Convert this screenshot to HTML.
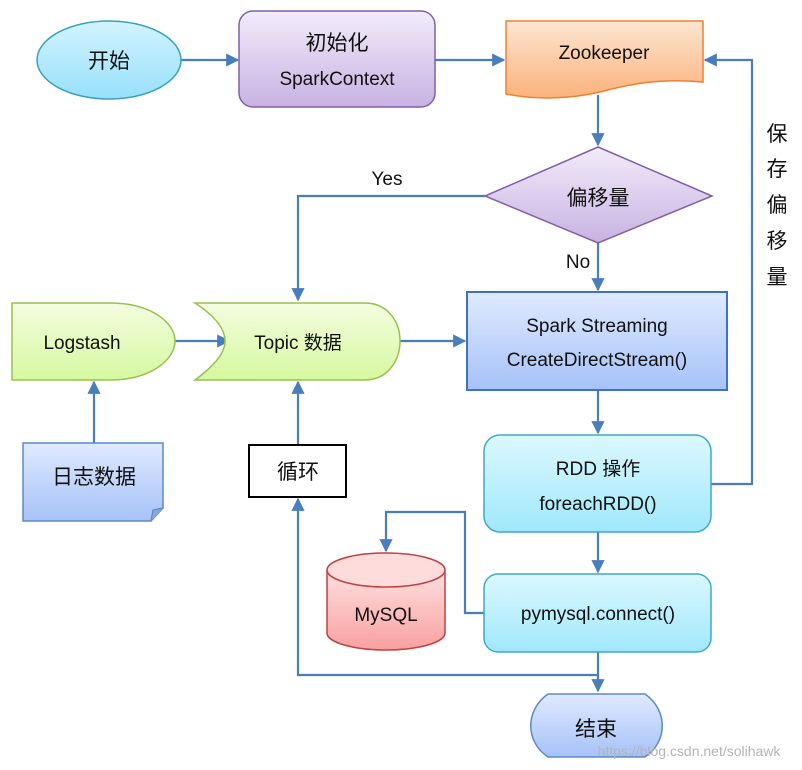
<!DOCTYPE html>
<html><head><meta charset="utf-8"><style>body{margin:0;background:#fff}svg{display:block}text{font-family:"Liberation Sans","Noto Sans CJK SC",sans-serif;fill:#111}</style></head><body>
<svg width="802" height="770" viewBox="0 0 802 770" xmlns="http://www.w3.org/2000/svg">
<defs>
<linearGradient id="gc" x1="0" y1="0" x2="0" y2="1"><stop offset="0" stop-color="#d2f4ff"/><stop offset="1" stop-color="#98e0fa"/></linearGradient>
<linearGradient id="gp" x1="0" y1="0" x2="0" y2="1"><stop offset="0" stop-color="#f2ecfa"/><stop offset="1" stop-color="#c8b2e2"/></linearGradient>
<linearGradient id="go" x1="0" y1="0" x2="0" y2="1"><stop offset="0" stop-color="#fde6d2"/><stop offset="1" stop-color="#fbb27c"/></linearGradient>
<linearGradient id="gb" x1="0" y1="0" x2="0" y2="1"><stop offset="0" stop-color="#dfeafe"/><stop offset="1" stop-color="#a6c2f8"/></linearGradient>
<linearGradient id="gg" x1="0" y1="0" x2="0" y2="1"><stop offset="0" stop-color="#f4fde0"/><stop offset="1" stop-color="#d6f8a0"/></linearGradient>
<linearGradient id="gt" x1="0" y1="0" x2="0" y2="1"><stop offset="0" stop-color="#dcf8ff"/><stop offset="1" stop-color="#a0e8fb"/></linearGradient>
<linearGradient id="gr" x1="0" y1="0" x2="0" y2="1"><stop offset="0" stop-color="#ffe0e0"/><stop offset="1" stop-color="#f8a0a0"/></linearGradient>
<marker id="ar" viewBox="0 0 10 10" refX="9" refY="5" markerWidth="6" markerHeight="6" orient="auto"><path d="M0,0 L10,5 L0,10 z" fill="#4a7ebb"/></marker>
</defs>
<g fill="none" stroke="#4a7ebb" stroke-width="2.2">
<path d="M181,60 H238" marker-end="url(#ar)"/>
<path d="M435,60 H504" marker-end="url(#ar)"/>
<path d="M598,95 V145" marker-end="url(#ar)"/>
<path d="M485,196 H298 V300" marker-end="url(#ar)"/>
<path d="M598,243 V290" marker-end="url(#ar)"/>
<path d="M175,341 H229" marker-end="url(#ar)"/>
<path d="M400,341 H465" marker-end="url(#ar)"/>
<path d="M94,443 V382" marker-end="url(#ar)"/>
<path d="M298,444 V382" marker-end="url(#ar)"/>
<path d="M598,390 V433" marker-end="url(#ar)"/>
<path d="M711,484 H752 V60 H705" marker-end="url(#ar)"/>
<path d="M598,532 V572" marker-end="url(#ar)"/>
<path d="M484,613 H465 V512 H386 V551" marker-end="url(#ar)"/>
<path d="M598,652 V691" marker-end="url(#ar)"/>
<path d="M598,675 H298 V499" marker-end="url(#ar)"/>
</g>
<ellipse cx="109" cy="60" rx="72" ry="39" fill="url(#gc)" stroke="#3aa0c0" stroke-width="1.5"/>
<text x="109" y="68" font-size="21" text-anchor="middle">开始</text>
<rect x="239" y="11" width="196" height="96" rx="14" fill="url(#gp)" stroke="#8060a8" stroke-width="1.5"/>
<text x="337" y="50" font-size="21" text-anchor="middle">初始化</text>
<text x="337" y="85" font-size="19" text-anchor="middle">SparkContext</text>
<path d="M506,21 H703 V82 C660,78 630,84 600,92 C570,99 535,100 506,94 Z" fill="url(#go)" stroke="#f08030" stroke-width="1.5"/>
<text x="604" y="59" font-size="19" text-anchor="middle">Zookeeper</text>
<path d="M598,147 L712,196 L598,243 L485,196 Z" fill="url(#gp)" stroke="#8060a8" stroke-width="1.5"/>
<text x="598" y="205" font-size="21" text-anchor="middle">偏移量</text>
<text x="387" y="185" font-size="19" text-anchor="middle" font-family="Liberation Serif">Yes</text>
<text x="578" y="268" font-size="19" text-anchor="middle" font-family="Liberation Serif">No</text>
<rect x="467" y="292" width="260" height="98" fill="url(#gb)" stroke="#3f72c0" stroke-width="2"/>
<text x="597" y="332" font-size="19" text-anchor="middle">Spark Streaming</text>
<text x="597" y="366" font-size="19" text-anchor="middle">CreateDirectStream()</text>
<path d="M12,303 H110 C150,303 175,322 175,341 C175,360 150,380 110,380 H12 Z" fill="url(#gg)" stroke="#98c050" stroke-width="1.5"/>
<text x="82" y="349" font-size="19" text-anchor="middle">Logstash</text>
<path d="M195,303 H365 C388,303 400,322 400,341 C400,360 388,380 365,380 H195 C215,365 225,353 225,341 C225,329 215,316 195,303 Z" fill="url(#gg)" stroke="#98c050" stroke-width="1.5"/>
<text x="298" y="349" font-size="19" text-anchor="middle">Topic 数据</text>
<path d="M23,443 H163 V508 L151,521 H23 Z" fill="url(#gb)" stroke="#5f88c8" stroke-width="1.5"/>
<path d="M151,521 L153,510 L163,508" fill="#8aa8e0" stroke="#5f88c8" stroke-width="1.2"/>
<text x="94" y="484" font-size="21" text-anchor="middle">日志数据</text>
<rect x="249" y="445" width="97" height="52" fill="#fff" stroke="#000" stroke-width="2"/>
<text x="298" y="479" font-size="21" text-anchor="middle">循环</text>
<rect x="484" y="435" width="227" height="97" rx="16" fill="url(#gt)" stroke="#40a8c8" stroke-width="1.5"/>
<text x="598" y="475" font-size="19" text-anchor="middle">RDD 操作</text>
<text x="598" y="510" font-size="19" text-anchor="middle">foreachRDD()</text>
<rect x="484" y="574" width="227" height="78" rx="14" fill="url(#gt)" stroke="#40a8c8" stroke-width="1.5"/>
<text x="598" y="620" font-size="19" text-anchor="middle">pymysql.connect()</text>
<path d="M327,570 V633 A59,17 0 0 0 445,633 V570" fill="url(#gr)" stroke="#c04040" stroke-width="1.5"/>
<ellipse cx="386" cy="570" rx="59" ry="17" fill="#ffdcdc" stroke="#c04040" stroke-width="1.5"/>
<text x="386" y="621" font-size="19" text-anchor="middle">MySQL</text>
<path d="M548,694 H645 C668,710 668,742 645,757 H548 C525,742 525,710 548,694 Z" fill="url(#gb)" stroke="#5f88c8" stroke-width="1.5"/>
<text x="596" y="736" font-size="21" text-anchor="middle">结束</text>
<g font-size="21" text-anchor="middle"><text x="777" y="141">保</text><text x="777" y="176">存</text><text x="777" y="212">偏</text><text x="777" y="248">移</text><text x="777" y="284">量</text></g>
<text x="689" y="756" font-size="14" text-anchor="middle" style="fill:#b4b4b4">https://blog.csdn.net/solihawk</text>
</svg>
</body></html>
